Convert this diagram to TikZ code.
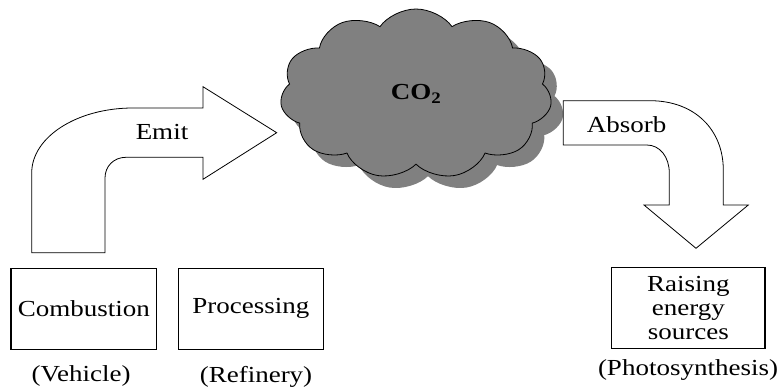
\documentclass[tikz,border=0pt]{standalone}
\usepackage{fontspec}
\setmainfont{Liberation Serif}
\usetikzlibrary{shapes.symbols,shadows}
\definecolor{cloudgray}{RGB}{128,128,128}
\begin{document}
\begin{tikzpicture}[x=1pt,y=-1pt,
  every node/.style={font=\fontsize{27}{28}\selectfont, yscale=0.85, transform shape}]
\useasboundingbox (0,0) rectangle (777,387);

\tikzstyle{box}=[draw, line width=1.1pt, inner sep=0pt, align=center, minimum height=95pt]
\tikzstyle{bent}=[draw, line width=0.8pt, fill=white]

% the cloud
\node [cloud, cloud puffs=11, cloud puff arc=120, draw, line width=0.8pt, fill=cloudgray,
  minimum width=272pt, minimum height=200pt, inner sep=0pt,
  drop shadow={shadow xshift=12pt, shadow yshift=-12pt, fill=cloudgray, opacity=1}]
  (co2) at (416,94) {\textbf{CO\textsubscript{2}}};

% bent arrows
\draw [bent] (31.7,252.7) -- (31.7,173) .. controls (31.7,137) and (77,108) .. (133,108)
  -- (203,108) -- (203,86.7) -- (276.7,132.7) -- (203,179.3) -- (203,157.3) -- (126,157.3)
  .. controls (114,157.3) and (105,166) .. (105,178) -- (105,252.7) -- cycle;
\node (emit) at (162,132) {Emit};

\draw [bent] (563.3,100.7) -- (650,100.7) .. controls (695,100.7) and (723.3,130) .. (723.3,170)
  -- (723.3,205) -- (748.3,205) -- (696,248.3) -- (644,205) -- (669.3,205) -- (669.3,173)
  .. controls (669.3,157) and (660,145) .. (646.7,145) -- (563.3,145) -- cycle;
\node (absorb) at (626.7,125) {Absorb};

% sources and sinks
\node [box, minimum width=145.7pt] (comb) at (83.8,308.8) {Combustion};
\node [box, minimum width=145pt] (proc) at (250.8,308.8) {Processing};
\node [box, minimum width=153.3pt] (rais) at (688.3,307.8) {Raising\\energy\\sources};

\node (veh) at (81,376) {(Vehicle)};
\node (ref) at (256,377) {(Refinery)};
\node (photo) at (688,370) {(Photosynthesis)};
\end{tikzpicture}
\end{document}
